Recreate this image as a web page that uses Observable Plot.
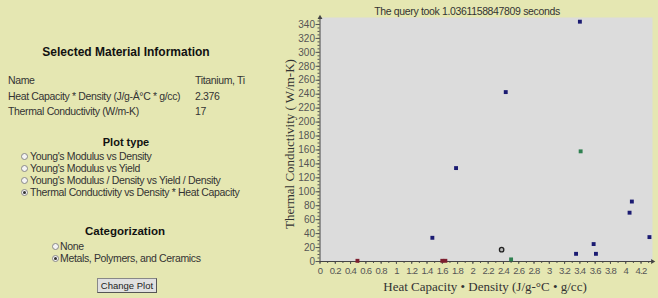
<!DOCTYPE html>
<html><head><meta charset="utf-8">
<script src="https://cdn.jsdelivr.net/npm/d3@7"></script>
<script src="https://cdn.jsdelivr.net/npm/@observablehq/plot@0.6"></script>
<style>
html,body{margin:0;padding:0;}
body{width:658px;height:298px;background:#e5e7b2;position:relative;overflow:hidden;font-family:"Liberation Sans",Arial,sans-serif;color:#333;}
.abs{position:absolute;white-space:nowrap;}
.h{font-weight:bold;color:#111;}
.r{position:absolute;width:5px;height:5px;border-radius:50%;border:1px solid #888;background:#f4f4f4;}
.r.on::after{content:"";position:absolute;left:1px;top:1px;width:3px;height:3px;border-radius:50%;background:#333;}
.t{font-size:10.5px;letter-spacing:-0.35px;}
#btn{position:absolute;left:97px;top:278px;width:58px;height:13px;border:1px solid #888;border-right-color:#555;border-bottom-color:#555;background:#e0e0e0;font-size:9.5px;text-align:center;line-height:13px;color:#222;}
#chart{position:absolute;left:280px;top:0;}
#chart svg g[aria-label="x-axis tick label"] text{letter-spacing:-0.7px;}
</style></head>
<body>
<div class="abs h" style="left:126px;top:45px;transform:translateX(-50%);font-size:12px;">Selected Material Information</div>
<div class="abs t" style="left:8px;top:74px;">Name</div>
<div class="abs t" style="left:195px;top:74px;">Titanium, Ti</div>
<div class="abs t" style="left:8px;top:90px;">Heat Capacity * Density (J/g-Â°C * g/cc)</div>
<div class="abs t" style="left:195px;top:90px;">2.376</div>
<div class="abs t" style="left:8px;top:105px;">Thermal Conductivity (W/m-K)</div>
<div class="abs t" style="left:195px;top:105px;">17</div>

<div class="abs h" style="left:126px;top:136px;transform:translateX(-50%);font-size:11px;">Plot type</div>
<span class="r" style="left:21px;top:153px;"></span><div class="abs t" style="left:30px;top:150px;">Young's Modulus vs Density</div>
<span class="r" style="left:21px;top:165px;"></span><div class="abs t" style="left:30px;top:162px;">Young's Modulus vs Yield</div>
<span class="r" style="left:21px;top:177px;"></span><div class="abs t" style="left:30px;top:174px;">Young's Modulus / Density vs Yield / Density</div>
<span class="r on" style="left:21px;top:189px;"></span><div class="abs t" style="left:30px;top:186px;">Thermal Conductivity vs Density * Heat Capacity</div>

<div class="abs h" style="left:125px;top:225px;transform:translateX(-50%);font-size:11.5px;">Categorization</div>
<span class="r" style="left:52px;top:243px;"></span><div class="abs t" style="left:60px;top:240px;">None</div>
<span class="r on" style="left:52px;top:255px;"></span><div class="abs t" style="left:60px;top:252px;">Metals, Polymers, and Ceramics</div>
<div id="btn">Change Plot</div>

<div class="abs t" style="left:467px;top:5px;transform:translateX(-50%);font-size:10.5px;color:#333;">The query took 1.0361158847809 seconds</div>
<div id="chart"></div>
<div class="abs" style="left:290px;top:144px;transform:translate(-50%,-50%) rotate(-90deg);font-family:'Liberation Serif',serif;font-size:13px;color:#333;">Thermal Conductivity ( W/m-K)</div>
<div class="abs" style="left:485px;top:287px;transform:translate(-50%,-50%);font-family:'Liberation Serif',serif;font-size:13px;color:#333;">Heat Capacity • Density (J/g-°C • g/cc)</div>

<script>
// Data
const metalsX = [1.47, 1.78, 2.43, 3.40, 3.35, 3.58, 3.61, 4.05, 4.08, 4.31];
const metalsY = [34, 134, 243, 344, 11, 25, 11, 70, 86, 35];
const polymersX = [0.49, 1.60, 1.64];
const polymersY = [1, 1, 1];
const ceramicsX = [2.50, 3.41];
const ceramicsY = [3, 158];
const selectedName = ["Titanium, Ti"];
const selectedX = [2.376];
const selectedY = [17];
const xTicks = [0,0.2,0.4,0.6,0.8,1,1.2,1.4,1.6,1.8,2,2.2,2.4,2.6,2.8,3,3.2,3.4,3.6,3.8,4,4.2];
const yTicks = [0,20,40,60,80,100,120,140,160,180,200,220,240,260,280,300,320,340];

const toRows = (xs, ys, cat) => xs.map((x, i) => ({x, y: ys[i], cat}));
const points = [
  ...toRows(polymersX, polymersY, "Polymers"),
  ...toRows(ceramicsX, ceramicsY, "Ceramics"),
  ...toRows(metalsX, metalsY, "Metals")
];
const selected = selectedX.map((x, i) => ({x, y: selectedY[i], name: selectedName[i]}));
const xMinor = d3.range(0, 4.35, 0.1);
const yMinor = d3.range(0, 346, 5);
const axisColor = "#555";

const chart = Plot.plot({
  width: 378, height: 298,
  marginLeft: 39.5, marginRight: 6, marginTop: 17, marginBottom: 37,
  x: {type: "linear", domain: [0, 4.35]},
  y: {type: "linear", domain: [0, 350]},
  color: {domain: ["Metals", "Polymers", "Ceramics"], range: ["#1b1b72", "#7d1f2f", "#2f8050"]},
  style: {fontFamily: "Liberation Sans, Arial, sans-serif", fontSize: "10px", color: axisColor, background: "transparent"},
  marks: [
    Plot.frame({fill: "#dcdcdc", stroke: null}),
    Plot.axisY({ticks: yMinor, tickSize: 2, tickFormat: () => "", label: null, stroke: axisColor}),
    Plot.axisX({ticks: xMinor, tickSize: 2, tickFormat: () => "", label: null, stroke: axisColor}),
    Plot.axisY({ticks: yTicks, tickSize: 4, tickPadding: 1, label: null, fill: "#555", stroke: axisColor, fontSize: 10}),
    Plot.axisX({ticks: xTicks, tickSize: 3, tickPadding: 3, label: null, fill: "#555", stroke: axisColor, fontSize: 9.5,
      tickFormat: d => String(+d.toFixed(1))}),
    Plot.ruleX([0], {y1: 0, y2: 350, stroke: "#444", strokeWidth: 1}),
    Plot.ruleY([0], {x1: 0, x2: 4.35, stroke: "#444", strokeWidth: 1}),
    Plot.dot([{x: 0, y: 350}], {x: "x", y: "y", symbol: "triangle", r: 1.8, fill: "#444", stroke: null}),
    Plot.dot([{x: 4.35, y: 0}], {x: "x", y: "y", symbol: "triangle", r: 1.8, rotate: 90, fill: "#444", stroke: null}),
    Plot.dot(points, {x: "x", y: "y", symbol: "square", r: 2.2, fill: "cat", stroke: null}),
    Plot.dot(selected, {x: "x", y: "y", r: 2.2, fill: "#b8b8b8", stroke: "#222", strokeWidth: 1.3})
  ]
});
document.getElementById("chart").appendChild(chart);
</script>
</body></html>
